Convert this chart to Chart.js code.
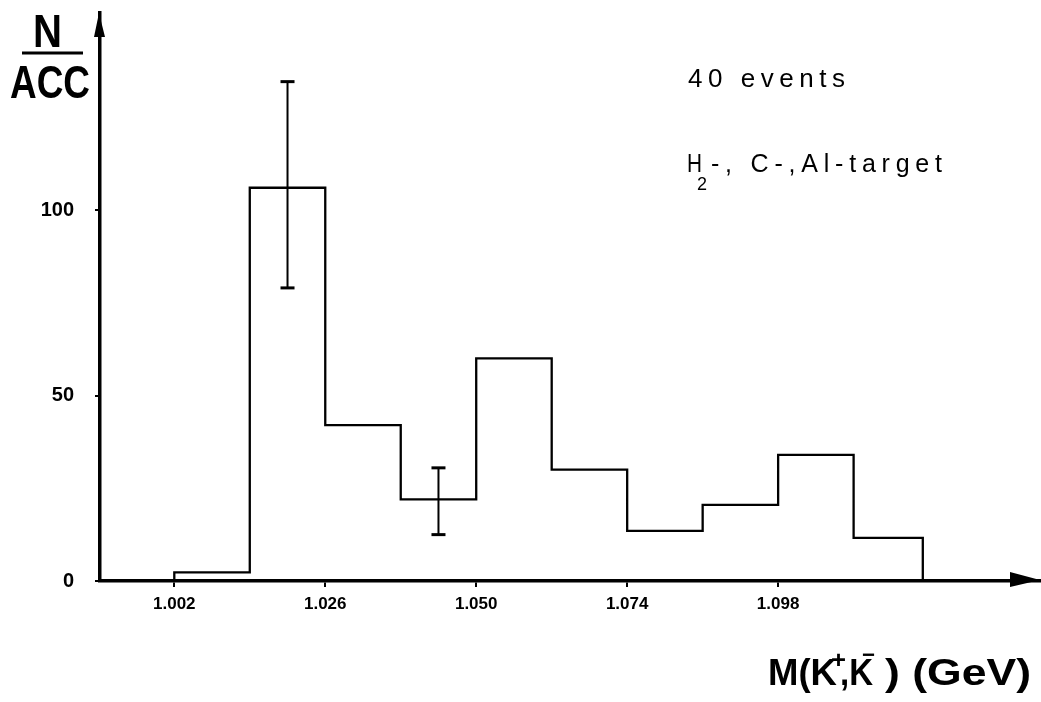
<!DOCTYPE html>
<html><head><meta charset="utf-8">
<script src="https://cdn.jsdelivr.net/npm/chart.js@4/dist/chart.umd.min.js"></script>
<style>html,body{margin:0;padding:0;background:#fff}canvas{display:block}</style>
</head><body>
<canvas id="c" width="1041" height="702"></canvas>
<script>
// ---- data ----
const binEdges  = [1.002, 1.014, 1.026, 1.038, 1.050, 1.062, 1.074, 1.086, 1.098, 1.110, 1.121];
const binValues = [2.3, 106, 42, 22, 60, 30, 13.5, 20.5, 34, 11.6];
const xTickValues = [1.002, 1.026, 1.050, 1.074, 1.098];
const xTickLabels = ["1.002", "1.026", "1.050", "1.074", "1.098"];
const yTickValues = [0, 50, 100];
const errX    = [1.020, 1.044];
const errLow  = [79, 12.5];
const errHigh = [134.6, 30.5];

// histogram outline built from bins
const histPoints = [{x: binEdges[0], y: 0}];
binValues.forEach((v, i) => {
  histPoints.push({x: binEdges[i], y: v});
  histPoints.push({x: binEdges[i + 1], y: v});
});
histPoints.push({x: binEdges[binEdges.length - 1], y: 0});

// error bar stems (gaps between bars)
const errStems = [];
const errCaps = [];
errX.forEach((x, i) => {
  errStems.push({x, y: errLow[i]}, {x, y: errHigh[i]}, {x, y: null});
  errCaps.push({x, y: errLow[i]}, {x, y: errHigh[i]});
});

function fitText(ctx, text, x, y, width, font) {
  ctx.save();
  ctx.font = font;
  const w = ctx.measureText(text).width;
  ctx.translate(x, y);
  ctx.scale(width / w, 1);
  ctx.fillText(text, 0, 0);
  ctx.restore();
}
function spacedText(ctx, text, x, y, width, font) {
  ctx.save();
  ctx.font = font;
  if ('letterSpacing' in ctx) ctx.letterSpacing = '0px';
  const w = ctx.measureText(text).width;
  const n = [...text].length;
  if ('letterSpacing' in ctx && n > 1) ctx.letterSpacing = ((width - w) / (n - 1)) + 'px';
  ctx.fillText(text, x, y);
  ctx.restore();
}

const decor = {
  id: 'decor',
  afterDraw(chart) {
    const ctx = chart.ctx;
    const a = chart.chartArea;
    ctx.save();
    ctx.fillStyle = '#000';
    ctx.strokeStyle = '#000';
    // y-axis arrow
    ctx.beginPath();
    ctx.moveTo(a.left - 1, a.top);
    ctx.lineTo(a.left - 6, a.top + 24);
    ctx.lineTo(a.left + 5, a.top + 24);
    ctx.closePath();
    ctx.fill();
    // x-axis arrow
    ctx.beginPath();
    ctx.moveTo(a.right, a.bottom - 1);
    ctx.lineTo(a.right - 30, a.bottom - 9);
    ctx.lineTo(a.right - 30, a.bottom + 6);
    ctx.closePath();
    ctx.fill();

    ctx.textBaseline = 'alphabetic';
    ctx.textAlign = 'left';
    // y title N / ACC
    fitText(ctx, 'N', 33, 47, 29, 'bold 46px "Liberation Sans"');
    ctx.lineWidth = 3;
    ctx.beginPath(); ctx.moveTo(22, 53); ctx.lineTo(83, 53); ctx.stroke();
    fitText(ctx, 'ACC', 10, 98, 80, 'bold 46px "Liberation Sans"');

    // annotations
    spacedText(ctx, '40 events', 688, 87, 157, '26px "Liberation Sans"');
    fitText(ctx, 'H', 687, 172, 15, '25px "Liberation Sans"');
    ctx.font = '18px "Liberation Sans"';
    ctx.fillText('2', 697, 190);
    spacedText(ctx, '-, C-,Al-target', 711, 172, 231, '25px "Liberation Sans"');

    // x title M(K+,K-) (GeV)
    const bf = 'bold 37px "Liberation Sans"';
    fitText(ctx, 'M(K', 768, 685, 69, bf);
    fitText(ctx, '+', 831, 668, 15, 'bold 24px "Liberation Sans"');
    fitText(ctx, ',K', 840, 685, 33, bf);
    fitText(ctx, '\u2212', 862, 662, 13, 'bold 22px "Liberation Sans"');
    fitText(ctx, ') (GeV)', 885, 685, 146, bf);
    ctx.restore();
  }
};

new Chart(document.getElementById('c'), {
  type: 'line',
  data: {
    datasets: [
      {
        label: 'N/ACC',
        data: histPoints,
        borderColor: '#000',
        borderWidth: 2.3,
        pointRadius: 0,
        fill: false,
        tension: 0
      },
      {
        label: 'error',
        data: errStems,
        borderColor: '#000',
        borderWidth: 2,
        pointRadius: 0,
        spanGaps: false,
        fill: false
      },
      {
        label: 'caps',
        data: errCaps,
        showLine: false,
        pointStyle: 'line',
        pointRadius: 7,
        pointBorderWidth: 3,
        pointBorderColor: '#000',
        pointBackgroundColor: '#000'
      }
    ]
  },
  options: {
    responsive: false,
    animation: false,
    devicePixelRatio: 1,
    layout: {autoPadding: false, padding: {top: 13, right: 1, left: 0, bottom: 0}},
    plugins: {legend: {display: false}, tooltip: {enabled: false}},
    scales: {
      x: {
        type: 'linear',
        min: 0.990188,
        max: 1.139632,
        afterBuildTicks: s => { s.ticks = xTickValues.map(v => ({value: v})); },
        afterFit: s => { s.height = 121; s.paddingLeft = 0; s.paddingRight = 0; },
        ticks: {
          autoSkip: false,
          maxRotation: 0,
          color: '#000',
          padding: 7,
          font: {family: '"Liberation Sans"', size: 17, weight: 'bold'},
          callback: (v, i) => xTickLabels[i]
        },
        grid: {display: true, drawOnChartArea: false, drawTicks: true, tickLength: 6, color: '#000', lineWidth: 2},
        border: {display: true, color: '#000', width: 3.5}
      },
      y: {
        type: 'linear',
        min: 0,
        max: 153.1,
        afterBuildTicks: s => { s.ticks = yTickValues.map(v => ({value: v})); },
        afterFit: s => { s.width = 100; s.paddingTop = 0; s.paddingBottom = 0; },
        ticks: {
          color: '#000',
          padding: 21,
          font: {family: '"Liberation Sans"', size: 20, weight: 'bold'},
          callback: v => String(v)
        },
        grid: {display: true, drawOnChartArea: false, drawTicks: true, tickLength: 5, color: '#000', lineWidth: 2},
        border: {display: true, color: '#000', width: 3.5}
      }
    }
  },
  plugins: [decor]
});
</script>
</body></html>
